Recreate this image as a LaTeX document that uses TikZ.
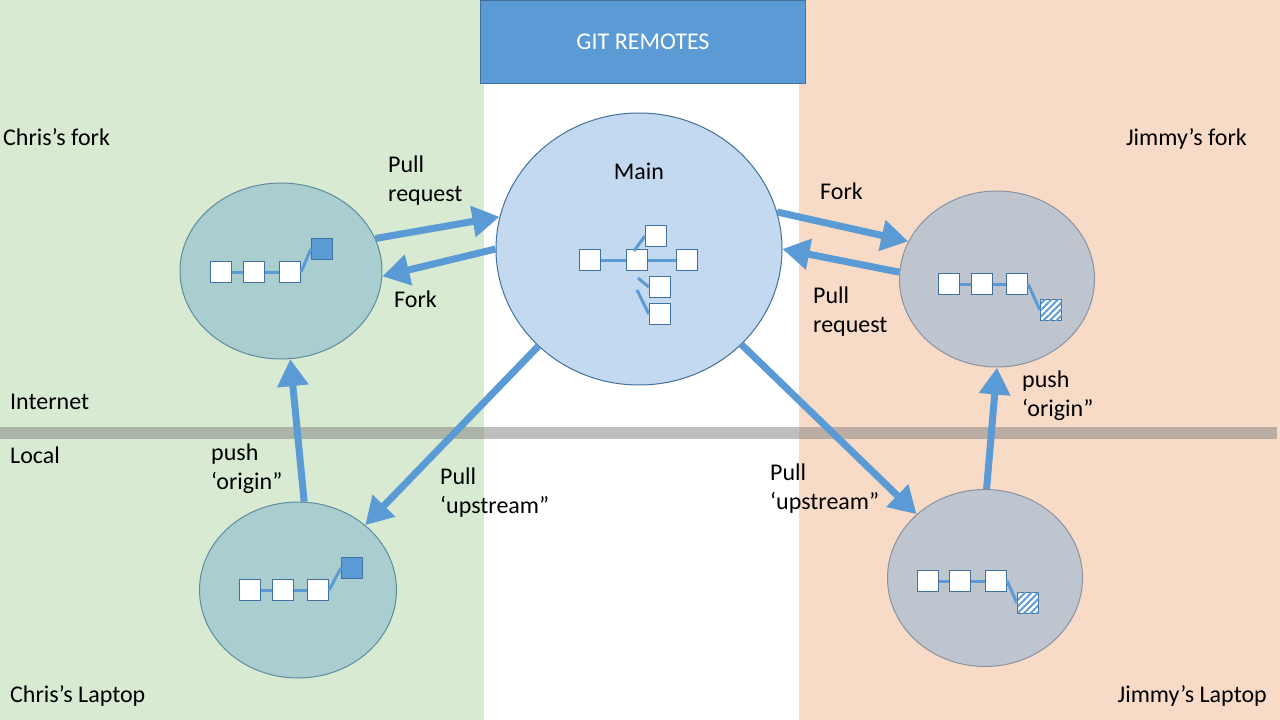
\documentclass[tikz,border=0pt]{standalone}
\usepackage{fontspec}
\setmainfont{Carlito}
\usetikzlibrary{shapes.geometric,arrows.meta,calc,patterns.meta}
\definecolor{bggreen}{HTML}{D9EAD3}
\definecolor{bgpeach}{HTML}{F8DBC7}
\definecolor{hdrblue}{HTML}{5B9BD5}
\definecolor{hdredge}{HTML}{41719C}
\definecolor{mainfill}{HTML}{C2D9F0}
\definecolor{chrisfill}{HTML}{AACDD0}
\definecolor{chrisedge}{HTML}{5F8C9C}
\definecolor{jimfill}{HTML}{BFC5CF}
\definecolor{jimedge}{HTML}{8792A2}
\definecolor{arrowblue}{HTML}{5B9BD5}
\definecolor{sqedge}{HTML}{41719C}
\tikzset{
  lbl/.style={font=\fontsize{24}{29}\selectfont, inner sep=0pt, anchor=base west, text=black},
  repo/.style={ellipse, draw, line width=1pt, inner sep=0pt},
  bigarrow/.style={draw=arrowblue, line width=7pt, -{Triangle[length=27pt,width=30pt]}},
  commit/.style={rectangle, draw=sqedge, fill=white, line width=1.2pt, minimum size=21pt, inner sep=0pt},
  filledcommit/.style={commit, fill=hdrblue},
  hatchcommit/.style={commit, postaction={pattern={Lines[angle=45,distance=4.6pt,line width=1.9pt]}, pattern color=arrowblue}},
  link/.style={draw=arrowblue, line width=3pt},
}
\newcommand{\twolines}[2]{\begin{tabular}[t]{@{}l@{}}#1\\#2\end{tabular}}
\begin{document}
\begin{tikzpicture}[x=1pt,y=-1pt]
\useasboundingbox (0,0) rectangle (1280,720);
% backgrounds
\fill[white] (0,0) rectangle (1280,720);
\fill[bggreen] (0,0) rectangle (484,720);
\fill[bgpeach] (799,0) rectangle (1280,720);
% internet/local divider
\fill[gray!100, opacity=0.5] (0,427) rectangle (1277,439);
% header
\node[draw=hdredge, fill=hdrblue, line width=1pt, minimum width=325pt, minimum height=83pt, inner sep=0pt, anchor=north west, text=white, font=\fontsize{24}{29}\selectfont] (hdr) at (480,0) {GIT REMOTES};

% repositories
\node[repo, fill=mainfill, draw=hdredge, minimum width=286pt, minimum height=272pt] (main) at (639,249) {};
\node[repo, fill=chrisfill, draw=chrisedge, minimum width=202pt, minimum height=176pt] (cf) at (281,271) {};
\node[repo, fill=jimfill, draw=jimedge, minimum width=195pt, minimum height=176pt] (jf) at (997,279) {};
\node[repo, fill=chrisfill, draw=chrisedge, minimum width=197pt, minimum height=176pt] (cl) at (298,590) {};
\node[repo, fill=jimfill, draw=jimedge, minimum width=195pt, minimum height=177pt] (jl) at (985,578) {};

% arrows
\draw[bigarrow] (cf.19) -- (main.167);
\draw[bigarrow] (main.180) -- (cf.-3);
\draw[bigarrow] (main.15) -- (jf.157);
\draw[bigarrow] (jf.176) -- (main.0);
\draw[bigarrow] (cl.86) -- (cf.-84);
\draw[bigarrow] (main.-136) -- (cl.44);
\draw[bigarrow] (main.-43) -- (jl.137);
\draw[bigarrow] (jl.89) -- (jf.-90);

% commits: Chris's fork
\node[commit] (cfa) at (221,272) {};
\node[commit] (cfb) at (254,272) {};
\node[commit] (cfc) at (290,272) {};
\node[filledcommit] (cfd) at (322,249) {};
\draw[link] (cfa) -- (cfb);
\draw[link] (cfb) -- (cfc);
\draw[link] (cfc.east) -- (cfd.west);
% commits: main
\node[commit] (ma) at (590,260) {};
\node[commit] (mb) at (637,260) {};
\node[commit] (mc) at (687,260) {};
\node[commit] (mt) at (656,236) {};
\node[commit] (mu) at (660,287) {};
\node[commit] (mv) at (660,314) {};
\draw[link] (ma) -- (mb);
\draw[link] (mb) -- (mc);
\draw[link] ($(mb.north)+(-3,2)$) -- (mt.west);
\draw[link] ($(mb.south)+(1,7)$) -- (mu.west);
\draw[link] ($(mb.south)+(0,19)$) -- (mv.west);
% commits: Jimmy's fork
\node[commit] (jfa) at (949,284) {};
\node[commit] (jfb) at (982,284) {};
\node[commit] (jfc) at (1017,284) {};
\node[hatchcommit] (jfd) at (1051,310) {};
\draw[link] (jfa) -- (jfb);
\draw[link] (jfb) -- (jfc);
\draw[link] (jfc.east) -- (jfd.west);
% commits: Chris's laptop
\node[commit] (cla) at (250,590) {};
\node[commit] (clb) at (283,590) {};
\node[commit] (clc) at (318,590) {};
\node[filledcommit] (cld) at (352,568) {};
\draw[link] (cla) -- (clb);
\draw[link] (clb) -- (clc);
\draw[link] (clc.east) -- (cld.west);
% commits: Jimmy's laptop
\node[commit] (jla) at (928,581) {};
\node[commit] (jlb) at (960,581) {};
\node[commit] (jlc) at (996,581) {};
\node[hatchcommit] (jld) at (1028,603) {};
\draw[link] (jla) -- (jlb);
\draw[link] (jlb) -- (jlc);
\draw[link] (jlc.east) -- (jld.west);

% labels
\node[lbl] (t1) at (3,145) {Chris’s fork};
\node[lbl, anchor=base east] (t2) at (1247,145) {Jimmy’s fork};
\node[lbl] (t3) at (10,409) {Internet};
\node[lbl] (t4) at (10,463) {Local};
\node[lbl] (t5) at (10,702) {Chris’s Laptop};
\node[lbl, anchor=base east] (t6) at (1267,702) {Jimmy’s Laptop};
\node[lbl, anchor=base] (t7) at (639,179) {Main};
\node[lbl] (t8) at (388,172) {\twolines{Pull}{request}};
\node[lbl] (t9) at (394,307) {Fork};
\node[lbl] (t10) at (820,199) {Fork};
\node[lbl] (t11) at (813,303) {\twolines{Pull}{request}};
\node[lbl] (t12) at (211,460) {\twolines{push}{‘origin”}};
\node[lbl] (t13) at (440,484) {\twolines{Pull}{‘upstream”}};
\node[lbl] (t14) at (770,480) {\twolines{Pull}{‘upstream”}};
\node[lbl] (t15) at (1022,387) {\twolines{push}{‘origin”}};
\end{tikzpicture}
\end{document}
